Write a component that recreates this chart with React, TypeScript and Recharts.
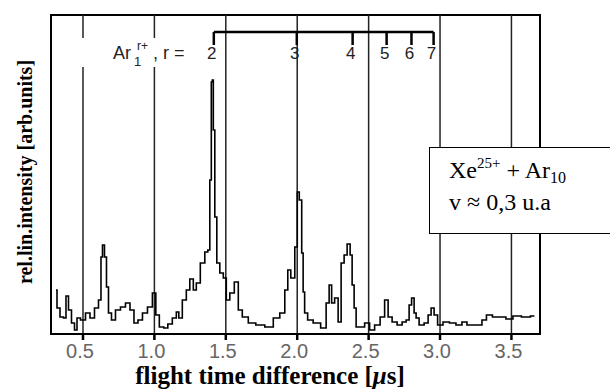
import React from "react";
import {
  ComposedChart,
  Line,
  Scatter,
  XAxis,
  YAxis,
  ReferenceLine,
  ReferenceArea,
} from "recharts";

// flight time difference [µs]
const times = [
  0.311, 0.325, 0.353, 0.374, 0.388, 0.409, 0.43, 0.451, 0.465, 0.5,
  0.535, 0.563, 0.598, 0.619, 0.633, 0.64, 0.661, 0.668, 0.689, 0.71,
  0.745, 0.78, 0.815, 0.843, 0.871, 0.899, 0.934, 0.969, 1.003, 1.017,
  1.052, 1.08, 1.108, 1.143, 1.164, 1.178, 1.213, 1.234, 1.262, 1.283,
  1.304, 1.339, 1.367, 1.381, 1.395, 1.402, 1.409, 1.416, 1.43, 1.444,
  1.472, 1.493, 1.514, 1.542, 1.577, 1.598, 1.633, 1.682, 1.738, 1.808,
  1.857, 1.899, 1.927, 1.941, 1.969, 1.997, 2.004, 2.025, 2.038, 2.045,
  2.059, 2.087, 2.136, 2.192, 2.213, 2.234, 2.248, 2.276, 2.297, 2.318,
  2.339, 2.36, 2.381, 2.388, 2.409, 2.416, 2.451, 2.493, 2.521, 2.563,
  2.598, 2.626, 2.647, 2.682, 2.717, 2.752, 2.773, 2.794, 2.808, 2.829,
  2.836, 2.871, 2.906, 2.927, 2.948, 2.969, 2.997, 3.045, 3.087, 3.136,
  3.171, 3.206, 3.276, 3.311, 3.339, 3.395, 3.437, 3.486, 3.535, 3.605,
  3.661,
];

// rel. lin. intensity [arb. units]
const intensity = [
  44, 26, 17, 16, 38, 24, 11, 4, 16, 14,
  21, 16, 26, 34, 77, 89, 77, 47, 21, 14,
  24, 27, 31, 24, 11, 14, 21, 27, 41, 19,
  7, 6, 10, 16, 22, 16, 34, 44, 55, 44,
  51, 71, 82, 84, 154, 252, 254, 204, 117, 71,
  61, 56, 34, 41, 52, 24, 17, 11, 9, 7,
  16, 21, 44, 64, 56, 87, 142, 134, 81, 42,
  21, 14, 11, 6, 31, 49, 31, 36, 12, 71,
  79, 90, 79, 49, 26, 7, 7, 11, 4, 9,
  17, 34, 17, 12, 9, 12, 14, 29, 36, 21,
  16, 9, 11, 19, 26, 19, 9, 12, 11, 9,
  12, 9, 9, 14, 19, 17, 17, 15, 18, 17,
  18,
];

const xTicks = [0.5, 1.0, 1.5, 2.0, 2.5, 3.0, 3.5];

// Ar_1^{r+} charge states and their flight times
const rCharges = [2, 3, 4, 5, 6, 7];
const rTimes = [1.416, 1.997, 2.388, 2.626, 2.8, 2.955];

const X_MIN = 0.276;
const X_MAX = 3.7;
const Y_MAX = 319;
const BRACKET_Y = 302;

const spectrum = times.map((t, i) => ({ t, v: intensity[i] }));
const bracket = rTimes.map((t, i) => ({ t, b: BRACKET_Y, r: rCharges[i] }));

const serif = "'Liberation Serif', 'Times New Roman', serif";
const sans = "'Liberation Sans', Arial, sans-serif";

const BracketTick = (props: any) => {
  const { cx, cy, payload } = props;
  return (
    <g>
      <line x1={cx} y1={cy} x2={cx} y2={cy + 13} stroke="#000" strokeWidth={2.5} />
      <text x={cx - 2} y={cy + 27} textAnchor="middle" fontFamily={sans} fontSize={17} fill="#222">
        {payload.r}
      </text>
    </g>
  );
};

export default function App() {
  return (
    <div style={{ position: "absolute", left: 0, top: 0, width: 610, height: 390, background: "#fff", overflow: "hidden" }}>
      <ComposedChart
        width={610}
        height={390}
        data={spectrum}
        margin={{ top: 15, right: 70, left: 51, bottom: 0 }}
      >
        <XAxis
          dataKey="t"
          type="number"
          domain={[X_MIN, X_MAX]}
          ticks={xTicks}
          allowDataOverflow
          height={56}
          tickFormatter={(v: number) => v.toFixed(1)}
          axisLine={{ stroke: "#000", strokeWidth: 2 }}
          tickLine={{ stroke: "#000", strokeWidth: 2.5 }}
          tickSize={6}
          tick={{ fill: "#666", fontSize: 20, fontFamily: sans, dx: -3, dy: 2 }}
        />
        <YAxis hide type="number" domain={[0, Y_MAX]} allowDataOverflow />
        {xTicks.map((x) => (
          <ReferenceLine key={x} x={x} stroke="#222" strokeWidth={1.5} />
        ))}
        <ReferenceArea x1={X_MIN} x2={X_MAX} y1={0} y2={Y_MAX} fill="none" stroke="#000" strokeWidth={2} />
        <ReferenceLine
          segment={[
            { x: rTimes[0], y: BRACKET_Y },
            { x: rTimes[rTimes.length - 1], y: BRACKET_Y },
          ]}
          stroke="#000"
          strokeWidth={2.5}
        />
        <Line
          type="step"
          dataKey="v"
          stroke="#000"
          strokeWidth={1.6}
          dot={false}
          isAnimationActive={false}
        />
        <Scatter data={bracket} dataKey="b" shape={BracketTick} isAnimationActive={false} />
      </ComposedChart>

      <svg width={610} height={390} style={{ position: "absolute", left: 0, top: 0, pointerEvents: "none" }}>
        <rect x={76} y={38} width={114} height={29} fill="#fff" />
        <text x={113} y={59} fontFamily={sans} fontSize={18} fill="#222">Ar</text>
        <text x={134} y={66} fontFamily={sans} fontSize={13} fill="#222">1</text>
        <text x={137} y={50} fontFamily={sans} fontSize={12} fill="#222">r+</text>
        <text x={153} y={59} fontFamily={sans} fontSize={18} fill="#222">, r =</text>
        <text
          transform="translate(32,172) rotate(-90)"
          textAnchor="middle"
          fontFamily={serif}
          fontWeight="bold"
          fontSize={20}
          fill="#000"
        >
          rel.lin.intensity [arb.units]
        </text>
        <text x={270} y={384} textAnchor="middle" fontFamily={serif} fontWeight="bold" fontSize={25} fill="#000">
          flight time difference [<tspan fontStyle="italic">μ</tspan>s]
        </text>
      </svg>

      <div
        style={{
          position: "absolute",
          left: 429,
          top: 147,
          width: 200,
          height: 87,
          border: "1.5px solid #000",
          background: "#fff",
          fontFamily: serif,
          fontSize: 24,
          lineHeight: "29px",
          paddingLeft: 19,
          paddingTop: 8,
          boxSizing: "border-box",
          color: "#000",
        }}
      >
        <div>
          Xe<span style={{ fontSize: 15, position: "relative", top: -10 }}>25+</span> + Ar
          <span style={{ fontSize: 16, position: "relative", top: 5 }}>10</span>
        </div>
        <div>v ≈ 0,3 u.a</div>
      </div>
    </div>
  );
}
